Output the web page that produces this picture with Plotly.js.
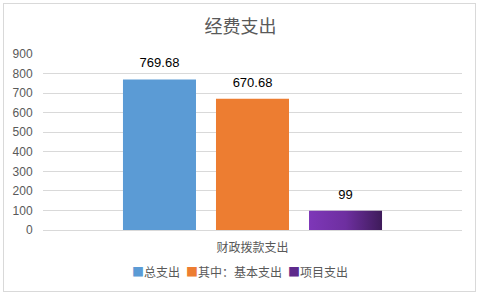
<!DOCTYPE html>
<html><head><meta charset="utf-8">
<script src="https://cdn.plot.ly/plotly-3.0.1.min.js"></script>
<style>body{margin:0;background:#fff}#wrap{position:relative;width:481px;height:297px}#chart{width:481px;height:297px}#border{position:absolute;left:3px;top:3px;width:471px;height:287px;border:1px solid #d9d9d9;pointer-events:none}</style>
</head><body>
<div id="wrap"><div id="chart"></div><div id="border"></div></div>
<script>
const category = ['财政拨款支出'];
const seriesNames = ['总支出', '其中：基本支出', '项目支出'];
const totalSpend = [769.68];
const basicSpend = [670.68];
const projectSpend = [99];
const colors = ['#5B9BD5', '#ED7D31', '#7030A0'];
const yTicks = [0,100,200,300,400,500,600,700,800,900];

const cjk = '"Noto Sans CJK SC", "Microsoft YaHei", sans-serif';
const values = [totalSpend, basicSpend, projectSpend];
const traces = values.map((v, i) => ({
  type: 'bar', x: category, y: v, name: seriesNames[i],
  marker: {color: colors[i]},
  text: v.map(String), textposition: 'outside', cliponaxis: false,
  textfont: {color: '#000', size: 13, family: 'Liberation Sans, Arial, sans-serif'},
  showlegend: false
}));
const legendText = seriesNames.map((n, i) =>
  '<span style="color:' + (i === 2 ? '#5E2A8C' : colors[i]) + '">■</span>' + n).join('\u2002');
const layout = {
  width: 481, height: 297,
  margin: {l: 43, r: 19, t: 54, b: 67},
  paper_bgcolor: '#fff', plot_bgcolor: '#fff',
  title: {text: '经费支出', font: {family: cjk, size: 18, color: '#595959'}, x: 0.5, xanchor: 'center', y: 0.91, yanchor: 'middle'},
  barmode: 'group', bargap: 0.334, bargroupgap: 0.215,
  showlegend: false,
  annotations: [{text: legendText, xref: 'paper', yref: 'paper', x: 0.469, y: -0.233, xanchor: 'center', yanchor: 'middle',
    showarrow: false, font: {family: cjk, size: 12, color: '#595959'}}],
  xaxis: {tickfont: {family: cjk, size: 12, color: '#595959'}, showline: false, ticks: 'outside', ticklen: 7, tickcolor: 'rgba(0,0,0,0)'},
  yaxis: {range: [0, 900], tickvals: yTicks, ticktext: yTicks.map(String), gridcolor: '#d9d9d9', zeroline: true, zerolinecolor: '#d9d9d9',
    tickfont: {family: 'Liberation Sans, Arial, sans-serif', size: 12, color: '#595959'},
    ticks: 'outside', ticklen: 7, tickcolor: 'rgba(0,0,0,0)', showline: false, fixedrange: true}
};
Plotly.newPlot('chart', traces, layout, {displayModeBar: false, staticPlot: true}).then(gd => {
  const svg = gd.querySelector('svg.main-svg');
  const ns = 'http://www.w3.org/2000/svg';
  let defs = svg.querySelector('defs');
  const lg = document.createElementNS(ns, 'linearGradient');
  lg.setAttribute('id', 'purpleGrad');
  lg.setAttribute('x1', '0'); lg.setAttribute('x2', '1'); lg.setAttribute('y1', '0'); lg.setAttribute('y2', '0');
  [['0', '#7E37B8'], ['0.5', '#6E2FA0'], ['1', '#3E1B5A']].forEach(([o, c]) => {
    const s = document.createElementNS(ns, 'stop'); s.setAttribute('offset', o); s.setAttribute('stop-color', c); lg.appendChild(s);
  });
  defs.appendChild(lg);
  const trs = gd.querySelectorAll('.barlayer .trace');
  if (trs[2]) trs[2].querySelectorAll('path').forEach(p => p.style.fill = 'url(#purpleGrad)');
  trs.forEach(tr => tr.querySelectorAll('text').forEach(t => {
    const tf = t.getAttribute('transform') || '';
    t.setAttribute('transform', 'translate(0,-6) ' + tf);
  }));
});
</script>
</body></html>
